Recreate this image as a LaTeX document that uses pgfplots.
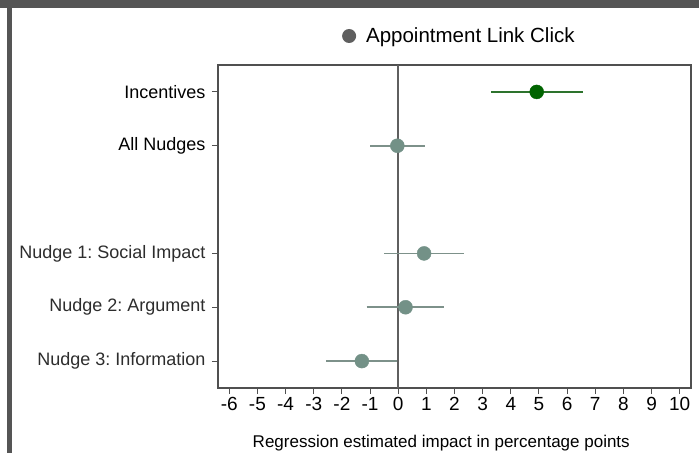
\documentclass[border=0pt]{standalone}
\usepackage{pgfplots}
\pgfplotsset{compat=1.18}
\usepackage{fontspec}
\setmainfont{Liberation Sans}
\frenchspacing
\definecolor{framegray}{RGB}{85,85,85}
\definecolor{axgray}{RGB}{80,80,80}
\definecolor{zerogray}{RGB}{95,95,95}
\definecolor{incgreen}{RGB}{0,100,0}
\definecolor{incline}{RGB}{45,115,45}
\definecolor{nudgefill}{RGB}{115,145,135}
\definecolor{nudgeline}{RGB}{125,145,138}
\definecolor{leggray}{RGB}{95,95,95}
\definecolor{labgray}{RGB}{45,45,45}
\begin{document}
\begin{tikzpicture}
\useasboundingbox (0,0) rectangle (699bp,453bp);
\fill[white] (0,0) rectangle (699bp,453bp);
\fill[framegray] (0,445bp) rectangle (699bp,453bp);
\fill[framegray] (7bp,0) rectangle (12bp,453bp);
\begin{axis}[
  at={(218bp,65bp)}, anchor=south west,
  scale only axis, width=473bp, height=323bp,
  xmin=-6.4, xmax=10.4, ymin=0.5, ymax=6.5,
  axis line style={axgray, line width=1.1bp},
  xtick={-6,-5,...,10},
  ytick={1,2,3,5,6},
  yticklabels={{\textcolor{labgray}{Nudge 3: Information}},{\textcolor{labgray}{Nudge 2: Argument}},{\textcolor{labgray}{Nudge 1: Social Impact}},All Nudges,Incentives},
  tick align=outside,
  xtick pos=bottom, ytick pos=left,
  major tick length=6bp,
  tick style={axgray, line width=1bp},
  /pgf/number format/assume math mode=true,
  xticklabel style={font=\fontsize{19bp}{22bp}\selectfont, text=black},
  yticklabel style={font=\fontsize{18bp}{21bp}\selectfont, xshift=-3bp},
  xlabel={Regression estimated impact in percentage points},
  xlabel style={font=\fontsize{17bp}{20bp}\selectfont, anchor=center, at={(axis description cs:0.472,-0.17)}},
  legend style={draw=none, fill=none, inner sep=0pt, at={(axis description cs:0.262,1.0898)}, anchor=west, font=\fontsize{20.5bp}{23bp}\selectfont, legend cell align=left},
  legend image code/.code={\fill[leggray, draw=none] (0,0) circle (7bp); \path[draw=none, fill=none] (-7bp,0) -- (15bp,0);},
  clip=false,
]
\addlegendimage{}
\addlegendentry{Appointment Link Click}
\addplot[zerogray, line width=2bp, forget plot] coordinates {(0,0.5) (0,6.5)};
% Incentives
\addplot[incline, line width=1.6bp, forget plot] coordinates {(3.30,6) (6.55,6)};
\addplot[only marks, mark=*, mark size=7bp, draw=incgreen, fill=incgreen, forget plot] coordinates {(4.92,6)};
% Nudges
\addplot[nudgeline, line width=1.6bp, forget plot] coordinates {(-1.00,5) (0.96,5)};
\addplot[nudgeline, line width=1.6bp, forget plot] coordinates {(-0.50,3) (2.33,3)};
\addplot[nudgeline, line width=1.6bp, forget plot] coordinates {(-1.12,2) (1.64,2)};
\addplot[nudgeline, line width=1.6bp, forget plot] coordinates {(-2.55,1) (-0.05,1)};
\addplot[only marks, mark=*, mark size=7bp, draw=nudgefill, fill=nudgefill, forget plot] coordinates {(-0.03,5) (0.92,3) (0.26,2) (-1.29,1)};
\end{axis}
\end{tikzpicture}
\end{document}
